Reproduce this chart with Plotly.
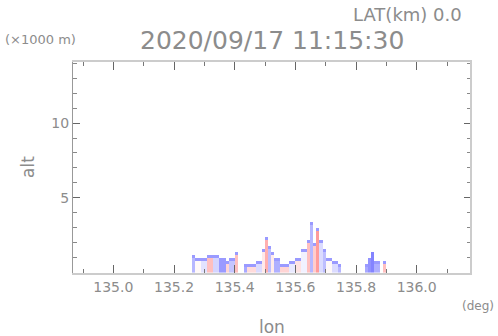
import numpy as np
import plotly.graph_objects as go

# Echo segments: lon start, lon end, echo-top height (km), value (-1 blue .. +1 red)
seg_lon0 = [135.26, 135.27, 135.29, 135.31, 135.33, 135.35, 135.37, 135.38, 135.40,
            135.43, 135.44, 135.47, 135.49, 135.50, 135.51, 135.52, 135.53, 135.55, 135.58,
            135.60, 135.62, 135.64, 135.65, 135.66, 135.67, 135.68, 135.69, 135.70, 135.72, 135.74,
            135.83, 135.84, 135.85, 135.86, 135.89]
seg_lon1 = [135.27, 135.29, 135.31, 135.33, 135.35, 135.37, 135.38, 135.40, 135.41,
            135.44, 135.47, 135.49, 135.50, 135.51, 135.52, 135.53, 135.55, 135.58, 135.60,
            135.62, 135.64, 135.65, 135.66, 135.67, 135.68, 135.69, 135.70, 135.72, 135.74, 135.75,
            135.84, 135.85, 135.86, 135.88, 135.90]
seg_top = [1.1, 0.9, 1.0, 1.1, 1.1, 1.0, 0.8, 1.0, 1.3,
           0.6, 0.5, 0.8, 1.6, 2.4, 1.8, 1.3, 1.0, 0.5, 0.8,
           0.9, 1.5, 2.1, 3.4, 2.0, 2.9, 2.2, 1.5, 0.9, 0.7, 0.6,
           0.6, 0.9, 1.4, 0.8, 0.8]
seg_val = [-0.5, 0.05, -0.2, 0.45, -0.3, -0.7, 0.3, -0.4, 0.45,
           -0.6, 0.25, -0.25, 0.15, 0.55, -0.45, 0.15, -0.55, 0.3, -0.15,
           0.2, -0.1, 0.45, -0.5, 0.35, 0.7, -0.25, -0.45, 0.05, -0.25, -0.5,
           -0.6, -0.75, -0.85, -0.55, 0.45]
edge_val = -0.7  # bluish rim seen at echo tops

x_ticks = [135.0, 135.2, 135.4, 135.6, 135.8, 136.0]
x_ticktext = ["135.0", "135.2", "135.4", "135.6", "135.8", "136.0"]
y_ticks = [5, 10]
y_ticktext = ["5", "10"]

dlon, dalt = 0.01, 0.2
lon_c = np.round(np.arange(135.255, 135.905, dlon), 4)
alt_c = np.round(np.arange(0.1, 3.6, dalt), 4)
z = np.full((len(alt_c), len(lon_c)), np.nan)
for l0, l1, top, v in zip(seg_lon0, seg_lon1, seg_top, seg_val):
    cols = np.where((lon_c >= l0) & (lon_c < l1))[0]
    rows = np.where(alt_c - dalt / 2 < top - 1e-9)[0]
    for c in cols:
        for r in rows:
            z[r, c] = v
        if len(rows):
            z[rows[-1], c] = edge_val if v > edge_val else v

fig = go.Figure()
fig.add_trace(go.Heatmap(
    x=lon_c, y=alt_c, z=z, zmin=-1, zmax=1,
    colorscale=[[0, "#6e6eff"], [0.5, "#ffffff"], [1, "#ff7070"]],
    showscale=False, hoverongaps=False,
))

W, H = 498, 336
L, T, R, B = 73, 62, 27, 63
PW, PH = W - L - R, H - T - B

fc = "#8c8c8c"
fnt = "DejaVu Sans"
fig.update_layout(
    width=W, height=H,
    margin=dict(l=L, r=R, t=T, b=B, autoexpand=False),
    paper_bgcolor="white", plot_bgcolor="white",
    font=dict(family=fnt, color=fc, size=14),
    showlegend=False,
)
fig.update_xaxes(
    range=[134.867, 136.179], showgrid=False, zeroline=False,
    tickvals=x_ticks, ticktext=x_ticktext, ticks="inside", ticklen=8,
    tickcolor="#666666", tickfont=dict(size=14, color=fc),
    showline=True, linecolor="#cccccc", linewidth=2, mirror="ticks",
    minor=dict(dtick=0.1, tick0=135.0, ticks="inside", ticklen=4, tickcolor="#777777"),
)
fig.update_yaxes(
    range=[-0.05, 14.1], showgrid=False, zeroline=False,
    tickvals=y_ticks, ticktext=y_ticktext, ticks="inside", ticklen=7,
    tickcolor="#666666", tickfont=dict(size=14, color=fc),
    showline=True, linecolor="#999999", linewidth=1, mirror="ticks",
    minor=dict(dtick=1, tick0=0, ticks="inside", ticklen=4, tickcolor="#888888"),
)
fig.add_shape(type="line", xref="paper", yref="paper", x0=1, x1=1, y0=0, y1=1,
              line=dict(color="#cccccc", width=2))


def px(x, y):
    return (x - L) / PW, 1 - (y - T) / PH


ann = [
    dict(text="2020/09/17 11:15:30", x=272, y=40, size=25),
    dict(text="LAT(km) 0.0", x=407, y=14, size=18),
    dict(text="(×1000 m)", x=40, y=39, size=13),
    dict(text="lon", x=272, y=327, size=17),
    dict(text="(deg)", x=478, y=306, size=12),
]
for a in ann:
    ax, ay = px(a["x"], a["y"])
    fig.add_annotation(text=a["text"], xref="paper", yref="paper", x=ax, y=ay,
                       xanchor="center", yanchor="middle", showarrow=False,
                       font=dict(family=fnt, size=a["size"], color=fc))
ax, ay = px(28, 167)
fig.add_annotation(text="alt", xref="paper", yref="paper", x=ax, y=ay, textangle=-90,
                   xanchor="center", yanchor="middle", showarrow=False,
                   font=dict(family=fnt, size=17, color=fc))

fig.write_html("out.html", config={"displayModeBar": False},
               post_script="document.body.style.margin='0';document.body.style.padding='0';")
